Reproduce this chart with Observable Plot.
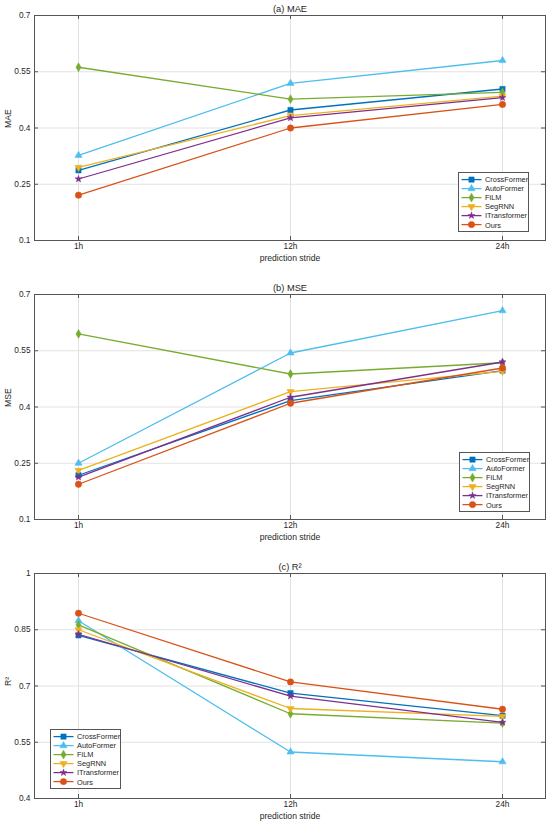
<!DOCTYPE html>
<html>
<head>
<meta charset="utf-8">
<script src="https://cdn.jsdelivr.net/npm/d3@7"></script>
<script src="https://cdn.jsdelivr.net/npm/@observablehq/plot@0.6"></script>
<style>
  body { margin: 0; background: #fff; font-family: "Liberation Sans", Arial, Helvetica, sans-serif; }
  .panel { position: relative; width: 550px; }
  .legend { position: absolute; background: #fff; border: 1px solid #555; padding: 1.5px 2px 1.5px 2px; box-sizing: border-box; }
  .legend .row { display: flex; align-items: center; height: 9.2px; font-size: 7.4px; color: #262626; white-space: nowrap; }
  .legend svg { display: block; flex: none; }
  .legend span { margin-left: 3px; }
</style>
</head>
<body>
<div id="chart"></div>
<script>
const strides = ["1h", "12h", "24h"];
const models = ["CrossFormer", "AutoFormer", "FiLM", "SegRNN", "ITransformer", "Ours"];
const modelColors = ["#0072BD", "#4DBEEE", "#77AC30", "#EDB120", "#7E2F8E", "#D95319"];

const maeValues = [
  [0.287, 0.448, 0.504],
  [0.327, 0.519, 0.580],
  [0.562, 0.477, 0.495],
  [0.295, 0.433, 0.485],
  [0.264, 0.427, 0.481],
  [0.221, 0.400, 0.463]
];
const mseValues = [
  [0.218, 0.417, 0.497],
  [0.250, 0.544, 0.657],
  [0.595, 0.488, 0.518],
  [0.231, 0.441, 0.495],
  [0.213, 0.426, 0.520],
  [0.194, 0.410, 0.504]
];
const r2Values = [
  [0.835, 0.681, 0.621],
  [0.874, 0.524, 0.498],
  [0.863, 0.626, 0.601],
  [0.850, 0.640, 0.619],
  [0.838, 0.673, 0.603],
  [0.894, 0.711, 0.638]
];
const errorTicks = [0.1, 0.25, 0.4, 0.55, 0.7];
const r2Ticks = [0.4, 0.55, 0.7, 0.85, 1];

const sqrt3 = Math.sqrt(3);
const triangleDown = {
  draw(context, size) {
    const y = -Math.sqrt(size / (sqrt3 * 3));
    context.moveTo(0, -y * 2);
    context.lineTo(-sqrt3 * y, y);
    context.lineTo(sqrt3 * y, y);
    context.closePath();
  }
};
const markerShapes = [d3.symbolSquare, d3.symbolTriangle, d3.symbolDiamond, triangleDown, d3.symbolStar, d3.symbolCircle];
const markerR = [3.0, 2.7, 2.7, 2.7, 2.2, 3.2];

const W = 550, ML = 34, MR = 5, MT = 15;
const textColor = "#262626";
const fs = 8.3;

function makePanel({title, ylabel, values, ticks, legend, height, marginBottom}) {
  const innerW = W - ML - MR;
  const innerH = height - MT - marginBottom;
  const rows = [];
  models.forEach((m, i) => strides.forEach((s, j) => rows.push({model: m, idx: i, stride: s, value: values[i][j]})));
  const marks = [
    Plot.gridX(strides, {stroke: "#e2e2e2", strokeOpacity: 1}),
    Plot.gridY(ticks, {stroke: "#e2e2e2", strokeOpacity: 1}),
    Plot.tickY(ticks, {y: d => d, stroke: "#555", insetRight: innerW - 4}),
    Plot.tickY(ticks, {y: d => d, stroke: "#555", insetLeft: innerW - 4}),
    Plot.tickX(strides, {x: d => d, stroke: "#555", insetTop: innerH - 4}),
    Plot.tickX(strides, {x: d => d, stroke: "#555", insetBottom: innerH - 4}),
    Plot.frame({stroke: "#555", strokeWidth: 1}),
    Plot.axisY(ticks, {tickSize: 0, tickPadding: 4, tickFormat: d => String(d), fontSize: fs, fill: textColor, label: null}),
    Plot.axisX(strides, {tickSize: 0, tickPadding: 3, fontSize: fs, fill: textColor, label: null}),
    Plot.text([title], {frameAnchor: "top", dy: -6, lineAnchor: "middle", fontSize: 9.3, fill: textColor}),
    Plot.text(["prediction stride"], {frameAnchor: "bottom", dy: 18, lineAnchor: "middle", fontSize: fs + 0.3, fill: textColor}),
    Plot.text([ylabel], {frameAnchor: "left", dx: -26, rotate: -90, lineAnchor: "middle", fontSize: fs + 0.3, fill: textColor})
  ];
  models.forEach((m, i) => {
    const data = rows.filter(r => r.idx === i);
    marks.push(Plot.line(data, {x: "stride", y: "value", stroke: modelColors[i], strokeWidth: 1.3}));
    marks.push(Plot.dot(data, {x: "stride", y: "value", symbol: markerShapes[i], r: markerR[i], fill: modelColors[i], stroke: modelColors[i], strokeWidth: 0.5}));
  });
  const svg = Plot.plot({
    width: W, height,
    marginLeft: ML, marginRight: MR, marginTop: MT, marginBottom: marginBottom,
    style: {fontFamily: '"Liberation Sans", Arial, Helvetica, sans-serif', background: "#fff", overflow: "visible"},
    x: {type: "point", domain: strides, padding: 0.2, axis: null},
    y: {domain: [ticks[0], ticks[ticks.length - 1]], axis: null},
    marks
  });
  const div = document.createElement("div");
  div.className = "panel";
  div.style.height = height + "px";
  div.appendChild(svg);
  const lg = document.createElement("div");
  lg.className = "legend";
  lg.style.left = legend.left + "px";
  lg.style.top = legend.top + "px";
  lg.style.width = "71px";
  models.forEach((m, i) => {
    const row = document.createElement("div");
    row.className = "row";
    const path = d3.symbol().type(markerShapes[i]).size(Math.PI * markerR[i] * markerR[i])();
    row.innerHTML = `<svg width="21" height="9.2"><line x1="0.5" x2="20.5" y1="4.6" y2="4.6" stroke="${modelColors[i]}" stroke-width="1.3"/><path transform="translate(10.5,4.6)" d="${path}" fill="${modelColors[i]}" stroke="${modelColors[i]}" stroke-width="0.5"/></svg><span>${m}</span>`;
    lg.appendChild(row);
  });
  div.appendChild(lg);
  return div;
}

const chart = document.getElementById("chart");
chart.appendChild(makePanel({title: "(a) MAE", ylabel: "MAE", values: maeValues, ticks: errorTicks, legend: {left: 458, top: 172}, height: 279, marginBottom: 39}));
chart.appendChild(makePanel({title: "(b) MSE", ylabel: "MSE", values: mseValues, ticks: errorTicks, legend: {left: 459, top: 173}, height: 279, marginBottom: 39}));
chart.appendChild(makePanel({title: "(c) R²", ylabel: "R²", values: r2Values, ticks: r2Ticks, legend: {left: 50, top: 171}, height: 266, marginBottom: 26}));
</script>
</body>
</html>
